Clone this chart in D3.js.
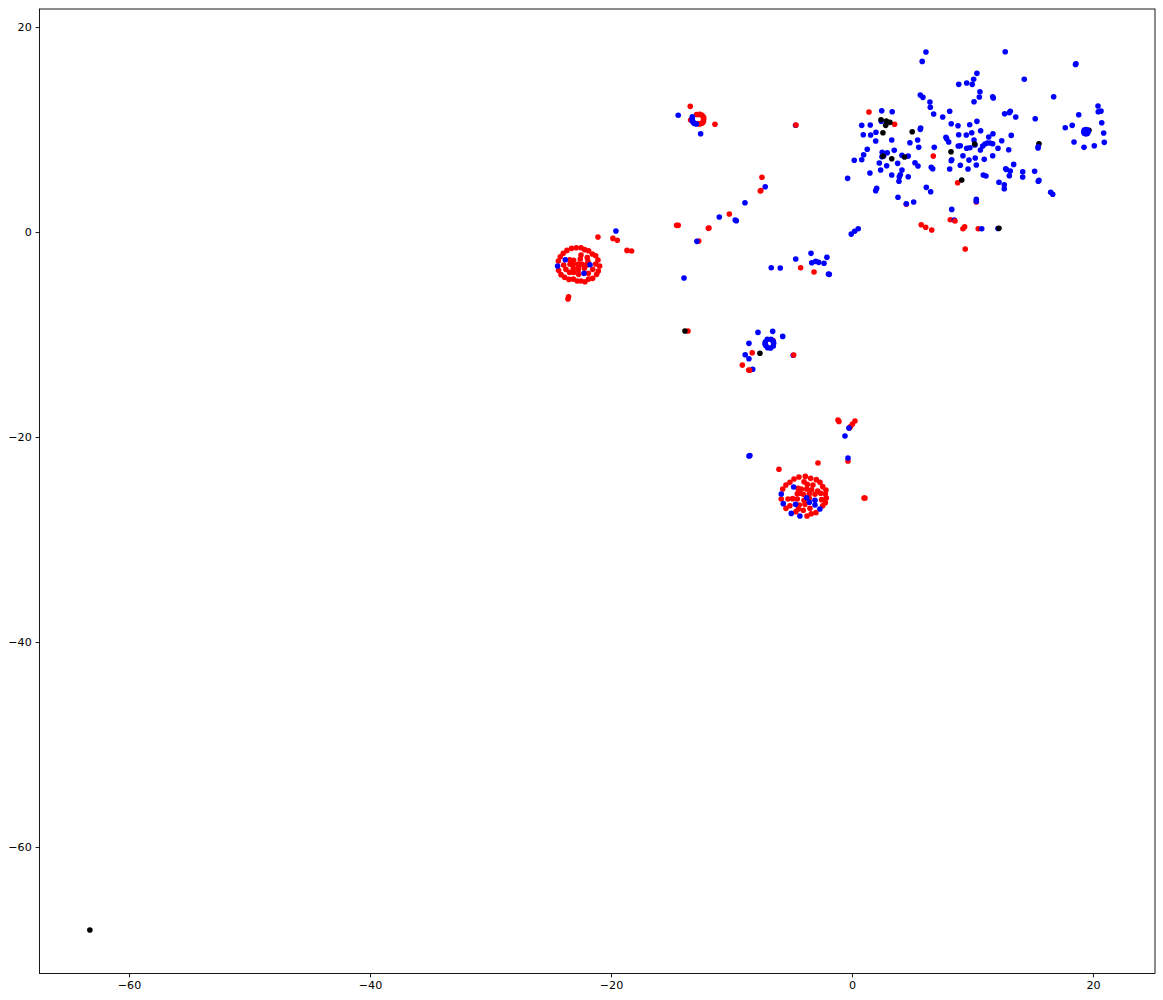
<!DOCTYPE html>
<html>
<head>
<meta charset="utf-8">
<script src="https://cdn.jsdelivr.net/npm/d3@7"></script>
<style>
html, body { margin:0; padding:0; background:#fff; }
svg { display:block; }
.axis text { font-family:"DejaVu Sans",sans-serif; font-size:11.1px; fill:#000; }
.axis path { stroke:none; }
.axis line { stroke:#000; stroke-width:0.9px; }
</style>
</head>
<body>
<div id="chart-area"></div>
<script>
var total_width = 1163;
var total_height = 1000;
var margin = {top:9,right:8,bottom:26.5,left:39.5};

var xTicks = [-60,-40,-20,0,20];
var yTicks = [-60,-40,-20,0,20];

var redPoints = [
 [-12.9,11.46],[-12.62,11.49],[-12.38,11.3],[-12.31,11.0],[-12.38,10.69],[-12.62,10.55],[-12.8,10.58],[-13.39,10.93],
 [-12.75,11.46],[-12.47,11.41],[-12.33,10.8],[-12.47,10.61],[-12.31,11.16],[-13.42,12.26],[-11.37,10.51],
 [1.41,11.71],[3.54,10.51],[6.75,7.41],[8.77,4.81],[5.75,0.71],[6.12,0.46],[6.62,0.20],[8.16,1.20],
 [9.21,0.32],[9.35,0.52],[10.48,0.32],[9.40,-1.66],[4.51,2.70],[10.32,2.93],
 [-7.47,5.34],[-7.61,4.0],[-7.56,4.05],[-10.18,1.76],[-11.87,0.39],[-11.92,0.36],[-14.55,0.65],[-14.42,0.65],[-12.72,-0.88],
 [-4.26,-3.48],[-3.15,-3.90],[-8.28,-11.78],[-9.10,-12.98],[-6.56,-10.59],[-13.61,-9.66],
 [-21.08,-0.49],[-19.84,-0.62],[-19.48,-0.81],[-18.67,-1.79],[-18.29,-1.85],[-23.52,-6.31],[-23.57,-6.54],
 [-24.37,-2.83],[-24.21,-2.41],[-23.96,-2.08],[-23.65,-1.79],[-23.27,-1.59],[-22.88,-1.53],[-22.49,-1.53],[-22.19,-1.72],
 [-21.86,-1.82],[-21.55,-2.15],[-21.27,-2.31],[-21.08,-2.73],[-20.94,-3.32],[-21.05,-3.80],[-21.19,-4.13],[-21.52,-4.52],
 [-21.86,-4.59],[-22.16,-4.85],[-22.49,-4.78],[-22.80,-4.78],[-23.13,-4.59],[-23.49,-4.62],[-23.85,-4.42],[-24.15,-4.16],[-24.35,-3.74],
 [-23.43,-2.70],[-23.10,-2.76],[-22.49,-2.24],[-22.55,-2.63],[-21.97,-2.50],[-21.91,-2.89],[-23.40,-3.15],[-23.93,-3.22],
 [-23.13,-3.12],[-22.71,-3.12],[-22.38,-3.15],[-22.02,-3.22],[-21.27,-3.12],[-23.74,-3.64],[-23.43,-3.94],[-23.10,-3.94],
 [-22.71,-3.71],[-22.69,-4.13],[-22.21,-3.54],[-21.88,-4.03],[-21.52,-3.64],[-23.13,-3.54],[-22.71,-3.38],
 [-6.06,-23.15],[-5.75,-25.07],[-5.48,-24.68],[-5.15,-24.42],[-4.81,-24.10],[-4.40,-23.90],[-3.87,-23.84],[-3.43,-24.03],
 [-2.96,-24.16],[-2.66,-24.42],[-2.43,-24.84],[-2.16,-25.17],[-2.21,-25.56],[-2.13,-25.95],[-2.21,-26.40],[-2.43,-26.70],
 [-2.99,-27.38],[-3.38,-27.48],[-3.73,-27.71],[-4.65,-27.28],[-5.48,-26.96],[-5.87,-26.05],[-4.48,-25.01],[-4.20,-25.07],
 [-3.98,-24.36],[-3.71,-24.62],[-3.24,-24.68],[-3.76,-25.07],[-3.35,-25.14],[-2.85,-25.27],[-4.54,-25.53],[-4.32,-25.49],
 [-4.04,-25.59],[-3.54,-25.53],[-3.07,-25.59],[-2.60,-25.49],[-5.31,-26.05],[-4.92,-26.01],[-4.54,-26.05],[-3.98,-26.18],
 [-3.54,-25.98],[-2.52,-26.11],[-5.15,-26.70],[-4.37,-26.63],[-3.90,-26.57],[-4.04,-27.15],[-3.49,-26.96],[-4.45,-27.02],
 [-2.82,-22.54],[-1.16,-18.34],[-1.08,-18.49],[0.25,-18.44],[0.04,-18.73],[-0.12,-18.98],[-0.21,-19.12],[-0.33,-22.34],[1.08,-25.95],[1.0,-25.95]
];

// these reds sit on top of a blue point in the picture
var redOnTop = [
 [8.55,1.07],[-8.49,-13.49],[-8.57,-13.46],[-4.65,10.44],[-4.84,-12.0]
];

var bluePoints = [
 [6.14,17.56],[5.83,16.65],[10.37,15.48],[10.10,14.90],[9.52,14.54],[9.98,14.41],[8.86,14.41],[10.62,13.69],[10.57,13.17],
 [5.67,13.37],[5.89,13.14],[6.47,12.68],[10.13,12.71],[6.50,12.17],[6.78,11.51],[8.11,11.78],[7.53,11.22],[2.47,11.83],
 [3.34,11.74],[8.24,10.57],[8.80,10.37],[9.77,10.47],[10.37,10.80],[0.81,10.41],[1.52,10.44],[2.43,10.80],[5.70,10.15],
 [5.67,10.02],[0.94,9.49],[1.55,9.46],[1.99,9.73],[8.86,9.49],[9.49,9.46],[9.94,9.69],[7.80,9.24],[7.86,9.10],[10.13,8.98],
 [1.97,8.88],[3.30,8.98],[5.45,8.98],[4.81,8.71],[8.03,8.78],[5.54,8.26],[6.83,8.26],[8.82,8.39],[8.99,8.42],[1.27,8.07],
 [3.51,7.97],[9.52,8.17],[9.79,8.22],[10.21,8.49],
 [12.72,17.59],[18.59,16.42],[18.55,16.35],[14.30,14.90],[16.74,13.20],[11.68,13.20],[11.73,13.07],[13.14,11.78],[13.06,11.64],
 [12.67,11.54],[13.59,11.22],[15.21,11.05],[20.42,12.29],[18.82,11.44],[20.44,11.74],[20.67,11.80],[20.73,10.66],[17.70,10.18],
 [18.28,10.41],[20.89,9.66],[18.43,8.78],[20.94,8.75],[20.11,8.42],[19.26,8.26],[10.68,9.88],[11.70,9.59],[11.35,9.27],
 [13.22,9.43],[12.43,8.91],[10.85,8.39],[11.04,8.59],[11.23,8.68],[11.45,8.68],[11.68,8.61],[12.12,8.17],[13.01,8.03],
 [15.46,8.32],[15.44,8.20],
 [19.6,9.79],[19.55,9.95],[19.42,10.0],[19.28,9.95],[19.24,9.79],[19.28,9.63],[19.42,9.58],[19.55,9.63],[19.42,9.79],
 [0.19,7.0],[0.81,7.05],[0.97,7.54],[2.51,7.78],[2.49,7.35],[2.93,7.74],[2.63,7.41],[4.15,7.48],[4.67,7.41],[2.27,6.73],
 [2.88,6.47],[3.79,6.70],[5.23,6.76],[5.48,6.44],[2.38,6.05],[4.15,6.05],[6.58,6.31],[6.70,6.18],[1.49,5.76],[3.30,5.56],
 [4.01,5.59],[3.93,5.40],[4.67,5.40],[-0.36,5.24],[3.90,4.95],[6.17,4.36],[6.53,3.93],[2.05,4.26],[1.97,4.03],[3.82,3.39],
 [4.51,2.76],[5.12,2.93],[-0.06,-0.20],[0.22,0.07],[0.52,0.32],[9.21,7.44],[9.71,7.02],[10.23,7.22],[8.28,7.05],[8.24,6.96],
 [8.99,6.51],[10.32,6.54],[8.11,6.15],[9.63,6.15],[10.32,3.19],[10.32,3.00],[8.28,2.21],[8.49,1.17],
 [10.98,7.09],[11.68,7.44],[13.42,6.60],[12.76,6.18],[12.82,6.10],[13.14,5.95],[14.17,5.88],[15.16,5.92],[10.90,5.56],
 [11.12,5.46],[13.06,5.49],[14.17,5.37],[15.52,5.04],[15.46,4.95],[12.20,4.85],[12.64,4.61],[12.64,4.22],[16.49,3.87],
 [16.66,3.68],[10.77,0.32],[12.12,0.35],[10.66,8.0],
 [-19.59,0.1],[-14.42,11.39],[-12.56,9.59],[-7.20,4.42],[-8.88,2.86],[-11.01,1.46],[-9.69,1.17],[-9.60,1.10],[-12.87,-0.91],
 [-13.94,-4.49],[-4.68,10.42],[-8.24,-13.39],[-4.88,-12.02],
 [-13.25,11.25],[-13.25,11.05],[-13.25,10.83],[-13.17,10.70],[-13.09,10.60],[-12.92,10.54],
 [-7.20,-10.73],[-7.22,-10.93],[-7.14,-11.09],[-7.0,-11.29],[-6.75,-11.32],[-6.53,-11.12],[-6.50,-10.86],[-6.53,-10.66],
 [-6.72,-10.47],[-7.03,-10.47],[-7.80,-9.79],[-6.58,-9.69],[-5.75,-10.18],[-8.55,-10.86],[-8.86,-11.97],[-8.55,-12.36],
 [-6.70,-3.48],[-5.95,-3.51],[-4.67,-2.63],[-3.40,-2.08],[-3.34,-3.0],[-3.01,-2.86],[-2.76,-2.96],[-2.32,-3.05],[-2.08,-2.47],
 [-1.88,-4.13],[-1.95,-4.10],
 [-24.43,-3.32],[-23.79,-2.70],[-21.74,-3.19],[-22.24,-4.03],
 [-2.66,-27.02],[-4.32,-27.71],[-5.04,-27.45],[-5.70,-26.50],[-5.87,-25.56],[-4.84,-24.88],[-3.76,-25.92],[-3.07,-26.18],
 [-3.54,-26.37],[-3.07,-26.63],[-4.68,-26.57],
 [-0.25,-19.12],[-0.58,-19.90],[-0.33,-22.05],[-8.55,-21.85],[-8.47,-21.81]
];

// these blacks only show at the edge of a blue point
var blackBehind = [
 [15.52,8.61],[19.67,9.92]
];

var blackPoints = [
 [2.41,10.96],[2.85,10.83],[3.15,10.70],[2.80,10.41],[2.57,9.69],[5.00,9.79],[10.18,8.59],[2.57,7.41],[3.30,7.15],
 [4.37,7.32],[8.22,7.83],[9.11,5.07],[12.20,0.36],[-7.64,-11.83],[-13.86,-9.66],[-63.25,-68.10]
];

var width = total_width - margin.left - margin.right;
var height = total_height - margin.top - margin.bottom;

var svg = d3.select('#chart-area').append('svg')
            .attr("width",total_width)
            .attr("height",total_height);

var plot = svg.append('g')
              .attr("transform","translate("+margin.left+","+margin.top+")");

var x = d3.scaleLinear()
          .domain([-67.43,25.15])
          .range([0,width]);

var y = d3.scaleLinear()
          .domain([-72.34,21.76])
          .range([height,0]);

function draw_points(points,colour){
  plot.append("g").selectAll("circle")
      .data(points)
      .enter().append("circle")
      .attr("cx",function(d){ return x(d[0]); })
      .attr("cy",function(d){ return y(d[1]); })
      .attr("r",2.8)
      .attr("fill",colour);
}

draw_points(redPoints,"#ff0000");
draw_points(blackBehind,"#000000");
draw_points(bluePoints,"#0000ff");
draw_points(redOnTop,"#ff0000");
draw_points(blackPoints,"#000000");

var xAxis = d3.axisBottom(x).tickValues(xTicks).tickFormat(d3.format("d")).tickSizeInner(3.9).tickSizeOuter(0).tickPadding(3.9);
var yAxis = d3.axisLeft(y).tickValues(yTicks).tickFormat(d3.format("d")).tickSizeInner(3.9).tickSizeOuter(0).tickPadding(3.9);

plot.append("g").attr("class","axis").attr("transform","translate(0,"+height+")").call(xAxis);
plot.append("g").attr("class","axis").call(yAxis);

plot.append("rect")
    .attr("width",width)
    .attr("height",height)
    .attr("fill","none")
    .attr("stroke","#000")
    .attr("stroke-width",0.9);
</script>
</body>
</html>
